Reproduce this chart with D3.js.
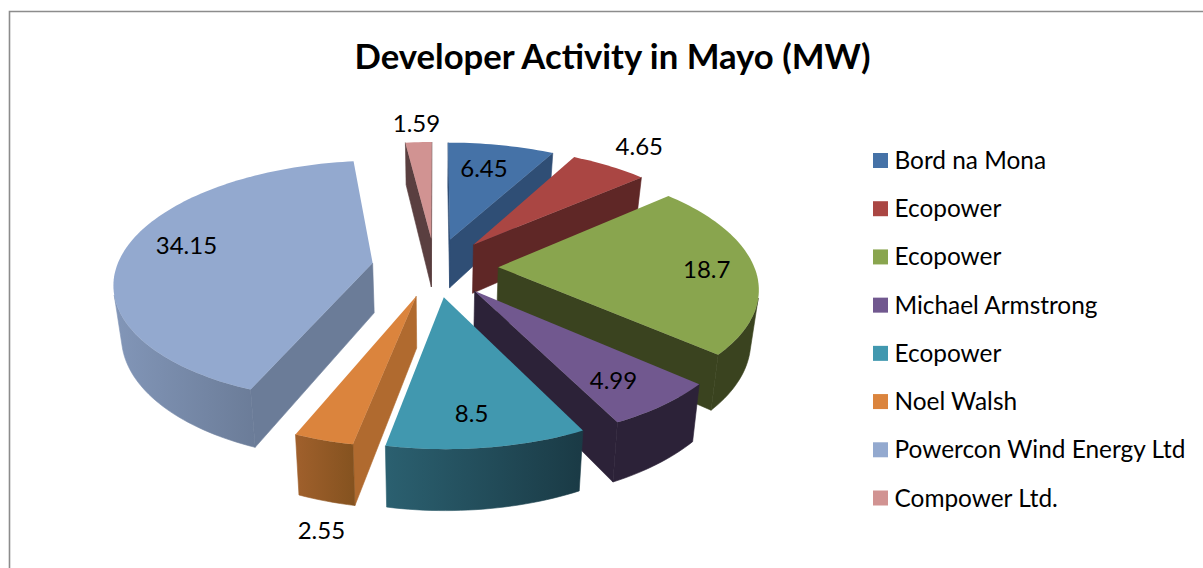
<!DOCTYPE html>
<html><head><meta charset="utf-8">
<script src="https://cdn.jsdelivr.net/npm/d3@7/dist/d3.min.js"></script>
<style>html,body{margin:0;background:#fff;overflow:hidden}svg{display:block}text{font-family:Lato,"Open Sans",sans-serif;fill:#000}</style>
</head><body><svg id="c" width="1203" height="568"></svg>
<script>
const title = "Developer Activity in Mayo (MW)";
const categories = ["Bord na Mona","Ecopower","Ecopower","Michael Armstrong","Ecopower","Noel Walsh","Powercon Wind Energy Ltd","Compower Ltd."];
const values = [6.45,4.65,18.7,4.99,8.5,2.55,34.15,1.59];
const topColors = ["#4572a7","#aa4643","#89a54e","#71588f","#4198af","#db843d","#93a9cf","#d19392"];
const wallColors = ["#2f4e75","#5f2726","#3a431f","#2c2238","#1f4a57","#b06a2f","#6b7c98","#5a3f40"];
const rimLeft = ["#2f4e75","#5f2726","#3a431f","#2c2238","#2b6070","#a0602c","#8296b8","#5a3f40"];
const rimRight = ["#2f4e75","#5f2726","#3a431f","#2c2238","#1a3a45","#84521f","#6b7c98","#5a3f40"];
const labelRadius = [.65,1.1,.65,.65,.65,1.1,.65,1.1];
const labelNudge = [[-1,-7],[18,-12],[42,2],[22,19],[1,25],[9,73],[-25,-7],[-1,-10]];

const explode=.247, persp=.15, depth=50, taper=.025, cx=435, cy=267, rx=256, ry=119;
const sx=d3.scaleLinear().domain([-1,1]).range([cx-rx,cx+rx]);
const sy=d3.scaleLinear().domain([-1,1]).range([cy+ry,cy-ry]);
const svg=d3.select("#c");
const defs=svg.append("defs");

// chart frame
svg.append("path").attr("d",d3.line()([[9.5,568],[9.5,11.5],[1203,11.5]]))
  .attr("fill","none").attr("stroke","#8c8c8c").attr("stroke-width",1.6);

svg.append("text").attr("x",612.5).attr("y",69).attr("text-anchor","middle")
  .attr("font-weight",700).attr("font-size",34.7).text(title);

const arcs=d3.pie().sort(null).value(d=>d)(values).map((a,i)=>{
  const mid=(a.startAngle+a.endAngle)/2;
  return {...a,i,mid,ox:explode*Math.sin(mid),oy:explode*Math.cos(mid)};
});
function proj(a,theta,r,z){
  const X=a.ox+r*Math.sin(theta),Y=a.oy+r*Math.cos(theta),w=1+persp*Y;
  return [cx+(sx(X/w)-cx)*(1-taper*z),sy(Y/w)+z*depth/w];
}
const line=d3.line();
function area(q){let s=0;q.forEach((p,i)=>{const n=q[(i+1)%q.length];s+=p[0]*n[1]-n[0]*p[1];});return s/2;}

const layer=svg.append("g");
arcs.slice().sort((a,b)=>b.oy-a.oy).forEach(a=>{
  const g=layer.append("g");
  const n=Math.max(6,Math.ceil((a.endAngle-a.startAngle)*40));
  const ths=d3.range(n+1).map(k=>a.startAngle+(a.endAngle-a.startAngle)*k/n);
  const rim=ths.map(t=>proj(a,t,1,0)), rimB=ths.map(t=>proj(a,t,1,1));
  const ap=proj(a,0,0,0), apB=proj(a,0,0,1);
  // radial walls
  [[ap,rim[0],rimB[0],apB],[rim[n],ap,apB,rimB[n]]].forEach(q=>{
    if(area(q)<0) g.append("path").attr("d",line(q)+"Z").attr("fill",wallColors[a.i])
      .attr("stroke",wallColors[a.i]).attr("stroke-width",.6);
  });
  // curved wall: visible runs only
  let run=[];
  const flush=()=>{
    if(!run.length) return;
    const top=run.map(k=>rim[k]).concat([rim[run[run.length-1]+1]]);
    const bot=run.map(k=>rimB[k]).concat([rimB[run[run.length-1]+1]]);
    const poly=top.concat(bot.reverse());
    const id="rim"+a.i;
    const [x0,x1]=d3.extent(poly,p=>p[0]);
    const gr=defs.append("linearGradient").attr("id",id).attr("gradientUnits","userSpaceOnUse")
      .attr("x1",x0).attr("x2",x1).attr("y1",0).attr("y2",0);
    gr.append("stop").attr("offset",0).attr("stop-color",rimLeft[a.i]);
    gr.append("stop").attr("offset",1).attr("stop-color",rimRight[a.i]);
    g.append("path").attr("d",line(poly)+"Z").attr("fill",`url(#${id})`)
      .attr("stroke",`url(#${id})`).attr("stroke-width",.6);
    run=[];
  };
  for(let k=0;k<n;k++){
    if(area([rim[k],rim[k+1],rimB[k+1],rimB[k]])<0) run.push(k); else flush();
  }
  flush();
  // top face
  g.append("path").attr("d",line([ap,...rim])+"Z").attr("fill",topColors[a.i]);
});

// data labels
arcs.forEach(a=>{
  const p=proj(a,a.mid,labelRadius[a.i],0),d=labelNudge[a.i];
  svg.append("text").attr("x",p[0]+d[0]).attr("y",p[1]+d[1]).attr("dy","0.35em")
    .attr("text-anchor","middle").attr("font-size",24).text(values[a.i]);
});

// legend
const ly=d3.scalePoint().domain(d3.range(categories.length)).range([160.5,498]);
const lg=svg.append("g").selectAll("g").data(categories).join("g")
  .attr("transform",(d,i)=>`translate(873,${ly(i)})`);
lg.append("rect").attr("x",0).attr("y",-7.5).attr("width",15).attr("height",15).attr("fill",(d,i)=>topColors[i]);
lg.append("text").attr("x",21.5).attr("dy","0.35em").attr("font-size",24.4).text(d=>d);
</script></body></html>
